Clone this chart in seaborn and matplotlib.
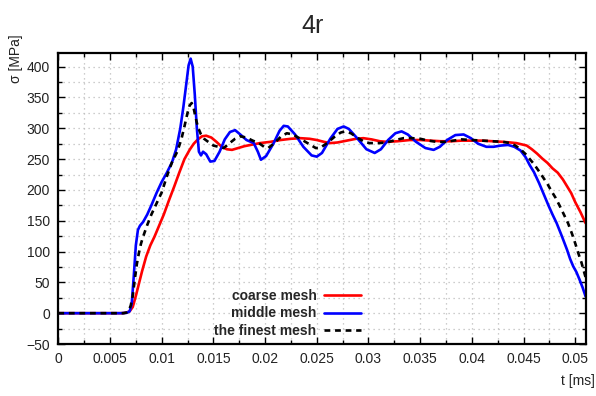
import numpy as np
import pandas as pd
import matplotlib
matplotlib.use("Agg")
import matplotlib.pyplot as plt
from matplotlib.ticker import MultipleLocator
from matplotlib.lines import Line2D
import seaborn as sns

# Stress history sigma(t) for three mesh densities
t_coarse = [0, 0.0062, 0.0066, 0.0069, 0.0072, 0.0075, 0.0078, 0.0081, 0.0085, 0.0089,
            0.0093, 0.0097, 0.0102, 0.0107, 0.0112, 0.0117, 0.0122, 0.0127, 0.0131, 0.0135,
            0.0139, 0.0143, 0.0148, 0.0153, 0.0158, 0.0163, 0.0168, 0.0174, 0.018, 0.0186,
            0.0195, 0.0205, 0.0215, 0.0225, 0.0234, 0.0243, 0.025, 0.0257, 0.0263, 0.027,
            0.0279, 0.0288, 0.0295, 0.0303, 0.0311, 0.0318, 0.0328, 0.034, 0.035, 0.036,
            0.037, 0.038, 0.039, 0.04, 0.041, 0.042, 0.043, 0.0437, 0.0443, 0.0448,
            0.0453, 0.0458, 0.0463, 0.0468, 0.0473, 0.0478, 0.0483, 0.0488, 0.0492, 0.0496,
            0.05, 0.0505, 0.051]
s_coarse = [0, 0, 1, 3, 10, 28, 48, 68, 92, 110,
            124, 140, 160, 183, 205, 228, 250, 265, 275, 282,
            287, 288, 285, 278, 270, 266, 265, 268, 271, 273,
            276, 278, 281, 283, 284, 283, 281, 278, 276, 277,
            280, 283, 284, 282, 279, 278, 279, 281, 281, 280,
            279, 279, 280, 280, 280, 279, 278, 277, 276, 274,
            272, 266, 259, 251, 244, 235, 228, 217, 206, 195,
            180, 164, 146]

t_middle = [0, 0.006, 0.0066, 0.0069, 0.0071, 0.0073, 0.0075, 0.0077, 0.0079, 0.0082,
            0.0086, 0.009, 0.0095, 0.01, 0.0105, 0.011, 0.0114, 0.0118, 0.0121, 0.0124,
            0.0126, 0.0128, 0.013, 0.0132, 0.0134, 0.0136, 0.0138, 0.014, 0.0143, 0.0147,
            0.0151, 0.0156, 0.0161, 0.0166, 0.0171, 0.0176, 0.0182, 0.0189, 0.0193, 0.0196,
            0.0201, 0.0208, 0.0214, 0.0218, 0.0222, 0.0229, 0.0237, 0.0245, 0.025, 0.0255,
            0.0263, 0.027, 0.0276, 0.0281, 0.0289, 0.0298, 0.0306, 0.0312, 0.0319, 0.0326,
            0.0332, 0.0338, 0.0346, 0.0355, 0.0363, 0.0369, 0.0376, 0.0384, 0.0392, 0.0399,
            0.0406, 0.0414, 0.0421, 0.0428, 0.0435, 0.0441, 0.0447, 0.0452, 0.0456, 0.046,
            0.0465, 0.0469, 0.0474, 0.0478, 0.0482, 0.0487, 0.0492, 0.0495, 0.0498, 0.0501,
            0.0504, 0.0507, 0.051]
s_middle = [0, 0, 0.5, 3, 15, 60, 110, 135, 142, 148,
            160, 175, 195, 213, 228, 245, 266, 300, 335, 375,
            402, 413, 400, 355, 300, 262, 256, 262, 258, 246,
            247, 262, 282, 294, 297, 290, 281, 276, 262, 249,
            255, 275, 296, 304, 303, 290, 270, 256, 254, 260,
            283, 299, 303, 299, 284, 266, 260, 266, 281, 292,
            295, 290, 278, 268, 265, 270, 281, 289, 290, 284,
            275, 270, 270, 272, 273, 270, 264, 253, 240, 229,
            211, 195, 175, 160, 146, 125, 103, 88, 76, 67,
            55, 42, 27]

t_finest = [0, 0.0063, 0.0066, 0.0068, 0.007, 0.0072, 0.0074, 0.0076, 0.0078, 0.008,
            0.0082, 0.0086, 0.009, 0.0095, 0.01, 0.0105, 0.011, 0.0115, 0.0119, 0.0122,
            0.0125, 0.0127, 0.0129, 0.0131, 0.0133, 0.0135, 0.0138, 0.0141, 0.0145, 0.015,
            0.0155, 0.016, 0.0165, 0.0171, 0.0176, 0.0182, 0.0188, 0.0194, 0.0199, 0.0203,
            0.0209, 0.0215, 0.0221, 0.0227, 0.0235, 0.0243, 0.0249, 0.0253, 0.026, 0.0267,
            0.0273, 0.0277, 0.0283, 0.029, 0.0296, 0.0301, 0.031, 0.0318, 0.0326, 0.0334,
            0.0342, 0.035, 0.0358, 0.0366, 0.0374, 0.0382, 0.039, 0.04, 0.041, 0.042,
            0.043, 0.0437, 0.0442, 0.0447, 0.0452, 0.0456, 0.046, 0.0465, 0.0469, 0.0473,
            0.0477, 0.0481, 0.0485, 0.0489, 0.0493, 0.0497, 0.05, 0.0503, 0.0506, 0.0508,
            0.051]
s_finest = [0, 0, 1, 4, 12, 28, 55, 80, 98, 113,
            124, 143, 160, 178, 196, 222, 245, 262, 282, 303,
            325, 337, 341, 332, 316, 302, 290, 283, 278, 272,
            270, 268, 275, 283, 287, 285, 280, 276, 270, 268,
            276, 286, 292, 290, 282, 274, 268, 268, 276, 286,
            293, 295, 292, 284, 278, 276, 276, 277, 281, 284,
            284, 283, 280, 278, 278, 280, 282, 281, 280, 279,
            278, 276, 272, 266, 258, 250, 242, 230, 220, 210,
            198, 187, 174, 160, 146, 128, 113, 97, 82, 70,
            58]

labels = ["coarse mesh", "middle mesh", "the finest mesh"]
colors = ["#ff0000", "#0000ff", "#000000"]

df = pd.concat([
    pd.DataFrame({"t": t_coarse, "sigma": s_coarse, "mesh": labels[0]}),
    pd.DataFrame({"t": t_middle, "sigma": s_middle, "mesh": labels[1]}),
    pd.DataFrame({"t": t_finest, "sigma": s_finest, "mesh": labels[2]}),
], ignore_index=True)

sns.set_theme(style="ticks")
plt.rcParams["font.family"] = ["Liberation Sans", "DejaVu Sans"]

fig = plt.figure(figsize=(5.96, 3.96), dpi=100)
ax = fig.add_axes([0.0978, 0.1313, 0.8855, 0.7341])

sns.lineplot(data=df, x="t", y="sigma", hue="mesh", style="mesh",
             hue_order=labels, style_order=labels,
             palette=dict(zip(labels, colors)),
             dashes={labels[0]: "", labels[1]: "", labels[2]: (2.2, 1.8)},
             estimator=None, sort=False, linewidth=1.9, legend=False, ax=ax)

ax.set_xlim(0, 0.05104)
ax.set_ylim(-50, 421.7)
ax.xaxis.set_major_locator(MultipleLocator(0.005))
ax.xaxis.set_minor_locator(MultipleLocator(0.0025))
ax.yaxis.set_major_locator(MultipleLocator(50))
ax.yaxis.set_minor_locator(MultipleLocator(25))
ax.set_xticks(np.arange(0, 0.0501, 0.005))
ax.set_xticklabels(["0", "0.005", "0.01", "0.015", "0.02", "0.025", "0.03",
                    "0.035", "0.04", "0.045", "0.05"])

ax.grid(True, which="both", color="#bdbdbd", linestyle=(0, (1, 3)), linewidth=0.9)
ax.tick_params(which="both", direction="in", top=True, right=True,
               labelsize=10, colors="black", labelcolor="#222222", pad=6)
ax.tick_params(which="major", length=5, width=1)
ax.tick_params(which="minor", length=3, width=1)
for side in ax.spines.values():
    side.set_linewidth(1.6)
    side.set_color("black")

ax.set_xlabel("")
ax.set_ylabel("")
fig.text(0.998, 0.02, "t [ms]", ha="right", va="bottom", fontsize=10, color="#222222")
fig.text(0.027, 1 - 34 / 396, "σ [MPa]", ha="center", va="top", rotation=90,
         fontsize=10, color="#222222")
fig.text(0.524, 0.935, "4r", ha="center", va="center", fontsize=18)

handles = [Line2D([], [], color=colors[0], lw=1.9),
           Line2D([], [], color=colors[1], lw=1.9),
           Line2D([], [], color=colors[2], lw=1.9, dashes=(2.2, 1.8))]
leg = ax.legend(handles, labels, loc="upper right", markerfirst=False,
                frameon=False, bbox_to_anchor=(368 / 596, 1 - 282 / 396),
                bbox_transform=fig.transFigure, borderpad=0, handlelength=2.7,
                handletextpad=0.5, labelspacing=0.25,
                prop={"weight": "bold", "size": 10})
for txt in leg.get_texts():
    txt.set_ha("right")
leg._legend_box.align = "right"

fig.savefig("out.png", dpi=100)
